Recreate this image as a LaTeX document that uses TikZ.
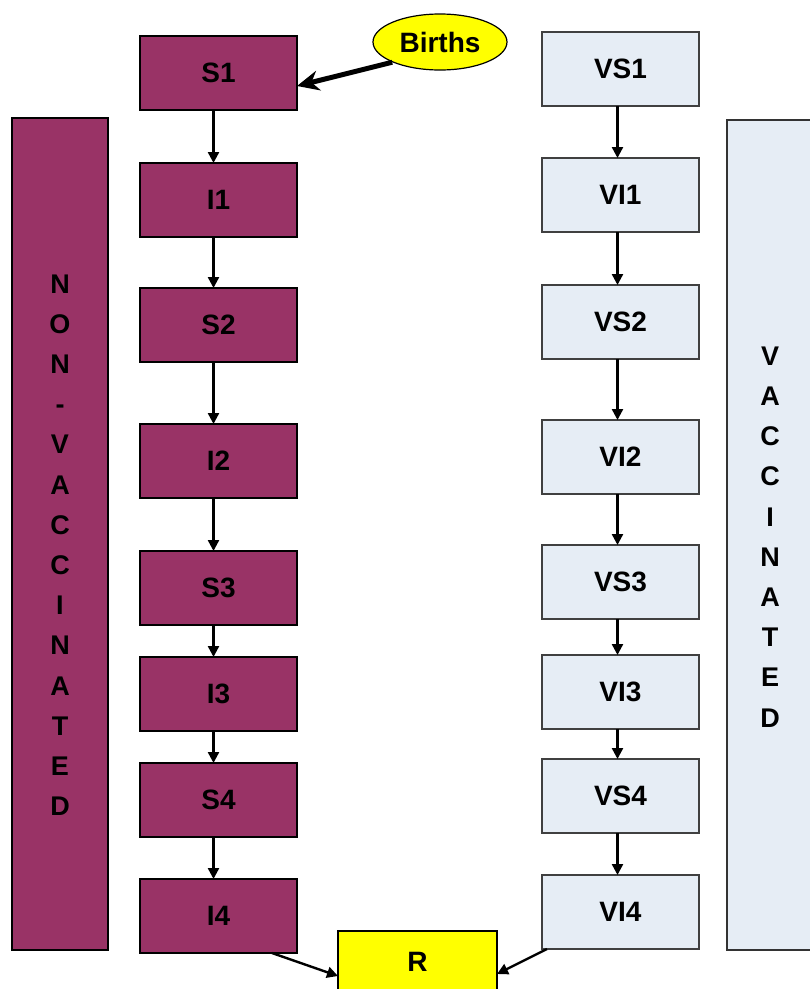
\documentclass[tikz,border=0pt]{standalone}
\usepackage{fontspec}
\setmainfont{Liberation Sans}
\usepackage{xcolor}
\definecolor{nvfill}{HTML}{993366}
\definecolor{vfill}{HTML}{E6EDF5}
\definecolor{bfill}{HTML}{FFFF00}
\usetikzlibrary{shapes.geometric,arrows.meta,positioning}

\begin{document}
\begin{tikzpicture}[x=1pt,y=-1pt,font=\bfseries\fontsize{28}{34}\selectfont,
  c/.style={rectangle,draw=black,line width=1.2pt,minimum width=157pt,minimum height=74pt,inner sep=0pt,outer sep=0pt},
  nv/.style={c,fill=nvfill},
  v/.style={c,fill=vfill,draw=black!75},
  bar/.style={rectangle,draw=black,line width=1.6pt,inner sep=0pt},
  vtxt/.style={align=center,font=\bfseries\fontsize{27}{40.2}\selectfont},
  arr/.style={-{Triangle[length=11pt,width=11pt]},line width=2.4pt}]
\useasboundingbox (0,0) rectangle (810,989);
\clip (0,0) rectangle (810,989);
% side bars
\node[bar,fill=nvfill,minimum width=96pt,minimum height=832pt] (nvbar) at (60,534) {};
\node[vtxt] (nvtxt) at (60,545) {N\\O\\N\\-\\V\\A\\C\\C\\I\\N\\A\\T\\E\\D};
\node[bar,fill=vfill,draw=black!80,minimum width=90pt,minimum height=830pt] (vbar) at (772,535) {};
\node[vtxt] (vtxt) at (770,537) {V\\A\\C\\C\\I\\N\\A\\T\\E\\D};
% non-vaccinated chain
\node[nv] (s1) at (218.5,73) {S1};
\node[nv,below=53pt of s1] (i1) {I1};
\node[nv,below=51pt of i1] (s2) {S2};
\node[nv,below=62pt of s2] (i2) {I2};
\node[nv,below=53pt of i2] (s3) {S3};
\node[nv,below=32pt of s3] (i3) {I3};
\node[nv,below=32pt of i3] (s4) {S4};
\node[nv,below=42pt of s4] (i4) {I4};
% vaccinated chain
\node[v] (vs1) at (620.5,69) {VS1};
\node[v,below=52pt of vs1] (vi1) {VI1};
\node[v,below=53pt of vi1] (vs2) {VS2};
\node[v,below=61pt of vs2] (vi2) {VI2};
\node[v,below=51pt of vi2] (vs3) {VS3};
\node[v,below=36pt of vs3] (vi3) {VI3};
\node[v,below=30pt of vi3] (vs4) {VS4};
\node[v,below=42pt of vs4] (vi4) {VI4};
% births and recovered
\node[ellipse,draw=black,line width=1.2pt,fill=bfill,minimum width=134pt,minimum height=56pt,inner sep=0pt] (b) at (440,42) {Births};
\node[c,fill=bfill,minimum width=159pt,minimum height=62pt] (r) at (417.5,962) {R};
\draw[-{Stealth[length=22pt,width=20pt]},line width=5pt] (b.south west) -- ([yshift=-13pt]s1.east);
\foreach \a/\b in {s1/i1,i1/s2,s2/i2,i2/s3,s3/i3,i3/s4,s4/i4}
  \draw[arr] ([xshift=-5pt]\a.south) -- ([xshift=-5pt]\b.north);
\foreach \a/\b in {vs1/vi1,vi1/vs2,vs2/vi2,vi2/vs3,vs3/vi3,vi3/vs4,vs4/vi4}
  \draw[arr] ([xshift=-3pt]\a.south) -- ([xshift=-3pt]\b.north);
\draw[arr] ([xshift=-25pt]i4.south east) -- ([yshift=-14pt]r.west);
\draw[arr] ([xshift=5pt]vi4.south west) -- ([yshift=-12pt]r.east);
\end{tikzpicture}
\end{document}
